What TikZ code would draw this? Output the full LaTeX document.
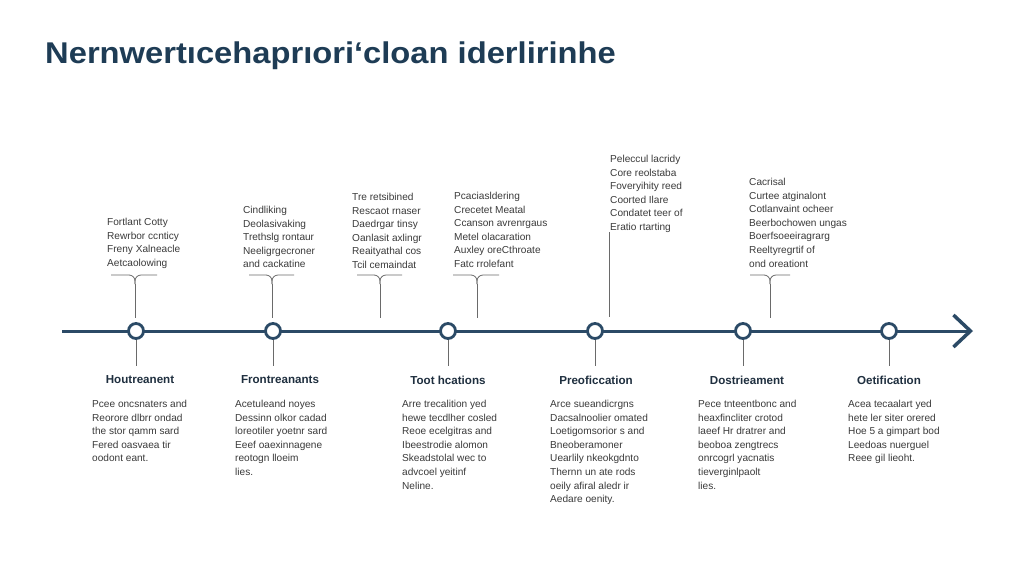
\documentclass[tikz,border=0pt]{standalone}
\usepackage{fontspec}
\setmainfont{Liberation Sans}
\usetikzlibrary{arrows.meta}
\definecolor{navy}{HTML}{1E3C55}
\definecolor{linecol}{HTML}{2B4A66}
\definecolor{txt}{HTML}{3A3A3A}
\definecolor{lbl}{HTML}{1F2F3F}
\definecolor{thin}{HTML}{6A6A6A}
\begin{document}
\begin{tikzpicture}[x=1pt,y=-1pt,
  dot/.style={circle,draw=linecol,line width=2.8pt,fill=white,minimum size=15pt,inner sep=0pt},
  txtblock/.style={anchor=north west,align=left,inner sep=0pt,font=\fontsize{10.1}{13.6}\selectfont,text=txt},
  lblnode/.style={anchor=center,inner sep=0pt,font=\fontsize{11.6}{13}\selectfont\bfseries,text=lbl},
  tick/.style={draw=thin,line width=0.8pt},
  brk/.style={draw=thin,line width=0.8pt,rounded corners=6pt}]
\useasboundingbox (0,0) rectangle (1024,576);
\fill[white] (0,0) rectangle (1024,576);
% title
\node[anchor=west,inner sep=0pt,xscale=1.09,font=\fontsize{30}{32}\selectfont\bfseries,text=navy] (title) at (45,56) {Nernwertıcehaprıori‘cloan iderlirinhe};
% timeline
\coordinate (tstart) at (62,331);
\coordinate (tend) at (973,331);
\draw[linecol,line width=3pt,-{Straight Barb[length=17pt,width=32pt,line width=3.5pt]}] (tstart) -- (tend);
% circles
\node[dot] (c1) at (136,331) {};
\node[dot] (c2) at (273,331) {};
\node[dot] (c3) at (448,331) {};
\node[dot] (c4) at (595,331) {};
\node[dot] (c5) at (743,331) {};
\node[dot] (c6) at (889,331) {};
% labels
\node[lblnode] (l1) at (140,380) {Houtreanent};
\node[lblnode] (l2) at (280,380) {Frontreanants};
\node[lblnode] (l3) at (448,380) {Toot hcations};
\node[lblnode] (l4) at (596,380) {Preoficcation};
\node[lblnode] (l5) at (747,380) {Dostrieament};
\node[lblnode] (l6) at (889,380) {Oetification};
% connectors circle to label
\coordinate (k1) at (136,366);
\coordinate (k2) at (273,366);
\coordinate (k3) at (448,366);
\coordinate (k4) at (595,366);
\coordinate (k5) at (743,366);
\coordinate (k6) at (889,366);
\foreach \i in {1,...,6}{\draw[tick] (c\i.south) -- (k\i);}
% description blocks
\node[txtblock] (d1) at (92,400) {Pcee oncsnaters and\\Reorore dlbrr ondad\\the stor qamm sard\\Fered oasvaea tir\\oodont eant.};
\node[txtblock] (d2) at (235,400) {Acetuleand noyes\\Dessinn olkor cadad\\loreotiler yoetnr sard\\Eeef oaexinnagene\\reotogn lloeim\\lies.};
\node[txtblock] (d3) at (402,400) {Arre trecalition yed\\hewe tecdlher cosled\\Reoe ecelgitras and\\Ibeestrodie alomon\\Skeadstolal wec to\\advcoel yeitinf\\Neline.};
\node[txtblock] (d4) at (550,400) {Arce sueandicrgns\\Dacsalnoolier omated\\Loetigomsorior s and\\Bneoberamoner\\Uearlily nkeokgdnto\\Thernn un ate rods\\oeily afiral aledr ir\\Aedare oenity.};
\node[txtblock] (d5) at (698,400) {Pece tnteentbonc and\\heaxfincliter crotod\\laeef Hr dratrer and\\beoboa zengtrecs\\onrcogrl yacnatis\\tieverginlpaolt\\lies.};
\node[txtblock] (d6) at (848,400) {Acea tecaalart yed\\hete ler siter orered\\Hoe 5 a gimpart bod\\Leedoas nuerguel\\Reee gil lieoht.};
% top blocks
\node[txtblock] (t1) at (107,218) {Fortlant Cotty\\Rewrbor ccnticy\\Freny Xalneacle\\Aetcaolowing};
\node[txtblock] (t2) at (243,206) {Cindliking\\Deolasivaking\\Trethslg rontaur\\Neeligrgecroner\\and cackatine};
\node[txtblock] (t3) at (352,193) {Tre retsibined\\Rescaot rnaser\\Daedrgar tinsy\\Oanlasit axlingr\\Reaityathal cos\\Tcil cemaindat};
\node[txtblock] (t4) at (454,192) {Pcaciasldering\\Crecetet Meatal\\Ccanson avrenrgaus\\Metel olacaration\\Auxley oreCthroate\\Fatc rrolefant};
\node[txtblock] (t5) at (610,155) {Peleccul lacridy\\Core reolstaba\\Foveryihity reed\\Coorted Ilare\\Condatet teer of\\Eratio rtarting};
\node[txtblock] (t6) at (749,178) {Cacrisal\\Curtee atginalont\\Cotlanvaint ocheer\\Beerbochowen ungas\\Boerfsoeeiragrarg\\Reeltyregrtif of\\ond oreationt};
% brackets
\foreach \n/\l/\m/\r in {1/111/135/157, 2/249/272/294, 3/357/380/402, 4/453/477/499, 6/750/770/790}{
  \coordinate (bl\n) at (\l,275);
  \coordinate (bm\n) at (\m,284);
  \coordinate (br\n) at (\r,275);
  \coordinate (bs\n) at (\m,318);
  \draw[brk] (bl\n) -- (\m,275) -- (bm\n);
  \draw[brk] (br\n) -- (\m,275) -- (bm\n);
  \draw[tick] (bm\n) -- (bs\n);
}
\coordinate (v5a) at (609,232);
\coordinate (v5b) at (609,317);
\draw[tick] (v5a) -- (v5b);
\end{tikzpicture}
\end{document}
